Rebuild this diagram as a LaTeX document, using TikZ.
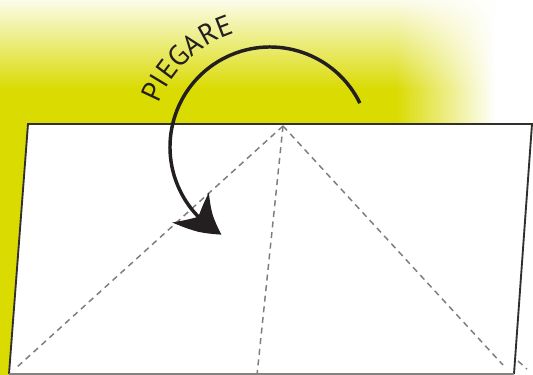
\documentclass[tikz,border=0pt]{standalone}
\usepackage{fontspec}
\newfontfamily\pgfont{PT Sans}
\usetikzlibrary{arrows.meta,bending,fadings,decorations.text,calc}
\definecolor{ylw}{RGB}{218,219,0}
\definecolor{edgec}{RGB}{50,48,45}
\definecolor{ink}{RGB}{35,31,32}
\definecolor{creasegray}{RGB}{125,125,125}
\tikzfading[name=fadeTop, top color=transparent!8, bottom color=transparent!100]
\tikzfading[name=fadeRight, left color=transparent!100, right color=transparent!0]
\tikzset{
  crease/.style={draw=creasegray, line width=1.1pt, dash pattern=on 4.5pt off 3.5pt},
  paperedge/.style={draw=edgec, line width=1.4pt, line join=miter},
  foldarrow/.style={draw=ink, line width=2.6pt, -{Stealth[length=31pt,width=35pt,inset=9pt,bend]}}
}
\begin{document}
\begin{tikzpicture}[x=0.75pt,y=0.75pt]
\useasboundingbox (0,0) rectangle (533,375);
% background
\fill[ylw] (0,0) rectangle (533,375);
\fill[white, path fading=fadeTop] (0,285) rectangle (533,375);
\fill[white, path fading=fadeRight] (395,0) rectangle (495,375);
\fill[white] (495,0) rectangle (533,375);
% paper
\coordinate (bl) at (9,1);
\coordinate (tl) at (28,251);
\coordinate (tr) at (532,251);
\coordinate (tre) at (533,251);
\coordinate (br) at (514,1);
\fill[white] (bl) -- (tl) -- (tre) -- (tr) -- (br) -- cycle;
\coordinate (apex) at (283,249);
\coordinate (dl) at (16,7);
\coordinate (dm) at (257,0);
\coordinate (dr) at (503,10);
\coordinate (xa) at (518,14);
\coordinate (xb) at (527,6);
\draw[crease] (apex) -- (dl);
\draw[crease] (apex) -- (dm);
\draw[crease] (apex) -- (dr);
\draw[crease] (xa) -- (xb);
\draw[paperedge] (bl) -- (tl) -- (tre);
\draw[paperedge] (tr) -- (br);
\draw[draw=edgec!60, line width=0.8pt] (bl) -- (br);
% fold arrow
\coordinate (c) at (270,228);
\draw[foldarrow] ($(c)+(26:100)$) arc[start angle=26, end angle=241, radius=100];
% label
\path[decorate, decoration={text along path, text align=center,
  text color=ink, text={|\pgfont\fontsize{21.5}{21.5}\selectfont|PIEGARE}}]
  ($(c)+(178:119)$) arc[start angle=178, end angle=88, radius=119];
\end{tikzpicture}
\end{document}
